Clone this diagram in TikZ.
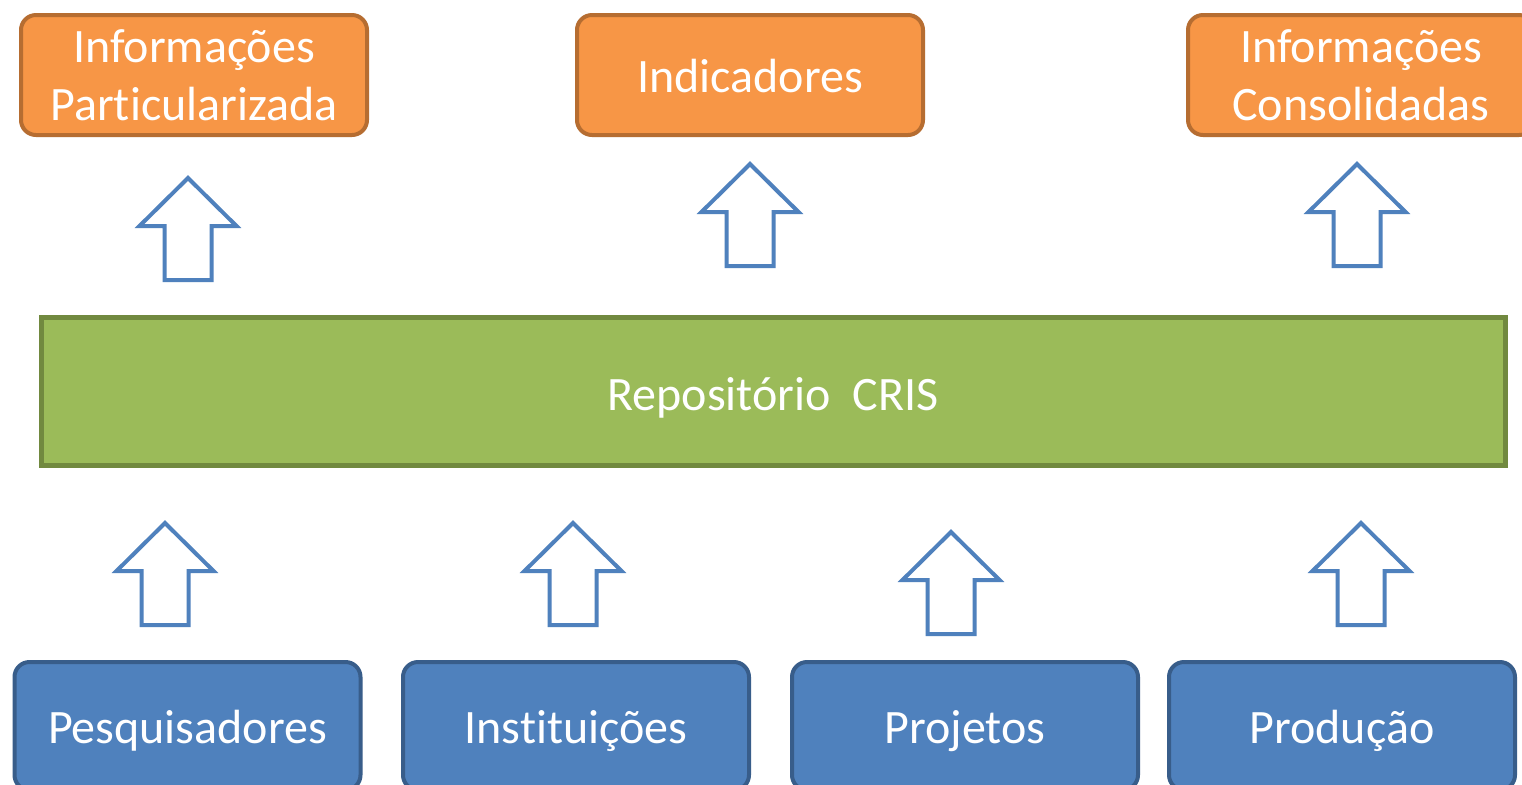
\documentclass[tikz,border=0pt]{standalone}
\usepackage{fontspec}
\setmainfont[Ligatures=NoCommon]{Carlito}
\definecolor{orfill}{HTML}{F79646}
\definecolor{ordraw}{HTML}{B66D31}
\definecolor{grfill}{HTML}{9BBB59}
\definecolor{grdraw}{HTML}{71893F}
\definecolor{blfill}{HTML}{4F81BD}
\definecolor{bldraw}{HTML}{385D8A}
\definecolor{arline}{HTML}{4F81BD}
\newcommand{\lowr}[2]{\raisebox{-#1}[\height][\depth]{#2}}
\tikzset{
  obox/.style={draw=ordraw, fill=orfill, line width=2pt, rounded corners=7.5pt,
    minimum width=173pt, minimum height=60pt, inner sep=0pt, text=white, align=center,
    font=\fontsize{24}{29}\selectfont},
  gbox/.style={draw=grdraw, fill=grfill, line width=2.5pt,
    minimum width=732pt, minimum height=74pt, inner sep=0pt, text=white,
    font=\fontsize{24}{29}\selectfont},
  bbox/.style={draw=bldraw, fill=blfill, line width=2pt, rounded corners=7.5pt,
    minimum width=173pt, minimum height=64pt, inner sep=0pt, text=white,
    font=\fontsize{24}{29}\selectfont},
  arrowline/.style={draw=arline, fill=white, line width=2pt, line join=miter},
  uparrow/.pic={\draw[arrowline] (0,0) -- (48.5,48) -- (23.5,48) -- (23.5,102) -- (-23.5,102) -- (-23.5,48) -- (-48.5,48) -- cycle;}
}
\begin{document}
\begin{tikzpicture}[x=0.5pt,y=-0.5pt]
\clip (0,0) rectangle (1522,784);
\fill[white] (0,0) rectangle (1522,784);
% top boxes
\node[obox] (o1) at (194,75) {Informações\\Particularizada};
\node[obox] (o2) at (750,75) {\lowr{0.5pt}{Indicadores}};
\node[obox] (o3) at (1361,75) {Informações\\Consolidadas};
% repository
\node[gbox] (g) at (773,391) {\lowr{3.5pt}{Repositório\ \ CRIS}};
% bottom boxes
\node[bbox] (b1) at (187.5,726) {\lowr{2.5pt}{Pesquisadores}};
\node[bbox] (b2) at (576,726) {\lowr{2.5pt}{Instituições}};
\node[bbox] (b3) at (965,726) {\lowr{2.5pt}{Projetos}};
\node[bbox] (b4) at (1342,726) {\lowr{2.5pt}{Produção}};
% arrows
\pic (a1) at (188,178) {uparrow};
\pic (a2) at (750,164) {uparrow};
\pic (a3) at (1357,164) {uparrow};
\pic (c1) at (165,523) {uparrow};
\pic (c2) at (573,523) {uparrow};
\pic (c3) at (951,532) {uparrow};
\pic (c4) at (1361,523) {uparrow};
\end{tikzpicture}
\end{document}
